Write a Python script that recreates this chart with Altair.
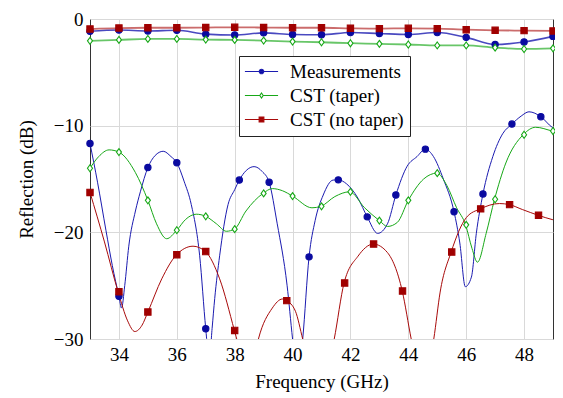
import altair as alt
import pandas as pd

# ---------------- data ----------------
series_names = ["Measurements", "CST (taper)", "CST (no taper)"]
line_colors = ["#1b1bb0", "#17a817", "#a80a0a"]
mark_fills = ["#0a0aa0", "white", "#a00000"]
mark_strokes = ["#0a0aa0", "#17a817", "#a00000"]

# upper curves (marks at every GHz)
upper_f = [33, 34, 35, 36, 37, 38, 39, 40, 41, 42, 43, 44, 45, 46, 47, 48, 49]
meas_upper_db = [-1.15, -1.03, -1.12, -1.06, -1.42, -1.5, -1.3, -1.45, -1.48,
                 -1.27, -1.36, -1.45, -1.27, -1.72, -2.39, -2.15, -1.63]
taper_upper_db = [-2.05, -1.96, -1.87, -1.87, -1.93, -1.96, -2.02, -2.12, -2.18,
                  -2.27, -2.33, -2.39, -2.48, -2.48, -2.69, -2.81, -2.75]
notaper_upper_db = [-0.94, -0.85, -0.82, -0.82, -0.8, -0.78, -0.8, -0.82, -0.82,
                    -0.87, -0.9, -0.87, -0.9, -1.0, -1.06, -1.09, -1.12]

# lower curves (reflection)
meas_lower_f = [33.0, 33.26, 33.55, 33.77, 34.0, 34.09, 34.2, 34.34, 34.57, 34.74,
                35.0, 35.25, 35.53, 35.8, 36.0, 36.25, 36.5, 36.79, 37.0, 37.12,
                37.22, 37.31, 37.48, 37.77, 38.0, 38.16, 38.4, 38.67, 38.95, 39.19,
                39.47, 39.81, 40.0, 40.17, 40.35, 40.57, 40.78, 41.06, 41.4, 41.58,
                41.86, 42.26, 42.58, 42.94, 43.28, 43.57, 43.96, 44.3, 44.59, 44.87,
                45.21, 45.58, 45.78, 45.97, 46.18, 46.35, 46.58, 46.92, 47.26, 47.58,
                47.9, 48.17, 48.58, 48.97, 49.0]
meas_lower_db = [-11.67, -15.3, -19.8, -23.1, -26.0, -27.1, -25.0, -21.3, -18.0, -16.2,
                 -13.93, -12.8, -12.4, -12.9, -13.48, -15.2, -17.4, -22.2, -29.04, -32.0,
                 -29.0, -26.2, -22.2, -17.4, -16.0, -15.1, -14.2, -13.84, -14.3, -15.3,
                 -19.2, -24.96, -30.0, -34.0, -30.0, -22.3, -18.9, -16.5, -15.1, -15.08,
                 -15.44, -16.8, -18.55, -20.1, -19.2, -16.5, -13.8, -12.9, -12.2, -12.9,
                 -15.0, -18.07, -21.0, -25.1, -24.2, -20.1, -16.4, -12.9, -10.76, -9.85,
                 -9.1, -8.7, -9.16, -10.15, -10.2]
meas_mark_f = [33.0, 34.0, 35.0, 36.0, 37.0, 38.16, 39.19, 40.57, 41.58, 42.58,
               43.57, 44.59, 45.58, 46.58, 47.58, 48.58]
meas_mark_db = [-11.67, -26.0, -13.93, -13.48, -29.04, -15.1, -15.3, -22.3, -15.08, -18.55,
                -16.5, -12.2, -18.07, -16.4, -9.85, -9.16]

taper_lower_f = [33.0, 33.3, 33.66, 34.0, 34.57, 35.0, 35.3, 35.65, 36.0, 36.3,
                 36.67, 37.0, 37.37, 37.71, 37.99, 38.39, 38.98, 39.3, 39.65, 40.0,
                 40.67, 40.98, 41.46, 41.97, 42.49, 43.0, 43.28, 43.62, 44.0, 44.53,
                 44.99, 45.33, 45.67, 45.98, 46.2, 46.39, 46.69, 46.98, 47.37, 47.97,
                 48.4, 48.97, 49.0]
taper_lower_db = [-13.99, -12.9, -12.27, -12.48, -14.4, -17.0, -19.2, -20.6, -19.8, -18.8,
                  -18.3, -18.5, -19.2, -19.9, -19.7, -18.0, -16.35, -15.9, -16.1, -16.6,
                  -17.7, -17.56, -16.65, -16.2, -17.7, -18.9, -19.45, -19.07, -17.0, -15.0,
                  -14.45, -15.6, -17.7, -19.3, -21.5, -22.8, -20.1, -16.9, -13.5, -10.85,
                  -10.15, -10.5, -10.52]
taper_mark_f = [33, 34, 35, 36, 37, 38, 39, 40, 41, 42, 43, 44, 45, 46, 47, 48, 49]
taper_mark_db = [-13.99, -12.48, -17.0, -19.8, -18.5, -19.7, -16.35, -16.6, -17.56, -16.2,
                 -18.9, -17.0, -14.45, -19.3, -16.9, -10.85, -10.5]

notaper_lower_f = [33.0, 33.5, 33.97, 34.3, 34.55, 34.8, 35.0, 35.48, 35.99, 36.56,
                   36.99, 37.48, 37.99, 38.1, 38.45, 38.82, 39.3, 39.65, 39.79, 40.1,
                   40.35, 40.9, 41.44, 41.78, 42.26, 42.79, 43.28, 43.79, 44.1, 44.5,
                   44.88, 45.1, 45.48, 46.01, 46.49, 47.15, 47.49, 47.94, 48.49, 48.97,
                   49.0]
notaper_lower_db = [-16.26, -20.9, -25.57, -28.3, -29.3, -28.7, -27.47, -24.36, -22.1, -21.3,
                    -21.8, -24.36, -29.2, -30.3, -35.0, -30.0, -27.1, -26.25, -26.4, -27.4,
                    -30.0, -36.0, -30.0, -24.75, -22.24, -21.1, -21.9, -25.5, -30.0, -35.0,
                    -30.0, -25.6, -21.85, -18.6, -17.8, -17.3, -17.4, -17.86, -18.4, -18.8,
                    -18.82]
notaper_mark_f = [33.0, 34.0, 35.0, 36.0, 37.0, 38.0, 39.8, 41.8, 42.8, 43.8,
                  45.5, 46.5, 47.5, 48.5]
notaper_mark_db = [-16.26, -25.57, -27.47, -22.1, -21.8, -29.2, -26.4, -24.75, -21.1, -25.5,
                   -21.85, -17.8, -17.4, -18.4]

x_ticks = [34, 36, 38, 40, 42, 44, 46, 48]
y_ticks = [-30, -20, -10, 0]

# ---------------- tables ----------------
curves = [
    (series_names[0], "m_up", upper_f, meas_upper_db, 1.6, 0.8),
    (series_names[1], "t_up", upper_f, taper_upper_db, 1.8, 0.65),
    (series_names[2], "n_up", upper_f, notaper_upper_db, 1.8, 0.6),
    (series_names[0], "m_lo", meas_lower_f, meas_lower_db, 1.0, 1.0),
    (series_names[1], "t_lo", taper_lower_f, taper_lower_db, 1.0, 1.0),
    (series_names[2], "n_lo", notaper_lower_f, notaper_lower_db, 1.0, 1.0),
]
rows = []
for s, cid, fs, ds, w, op in curves:
    for f, d in zip(fs, ds):
        rows.append({"series": s, "curve": cid, "f": f, "db": d, "w": w, "op": op})
lines_df = pd.DataFrame(rows)

marks = [
    (series_names[0], upper_f, meas_upper_db),
    (series_names[1], upper_f, taper_upper_db),
    (series_names[2], upper_f, notaper_upper_db),
    (series_names[0], meas_mark_f, meas_mark_db),
    (series_names[1], taper_mark_f, taper_mark_db),
    (series_names[2], notaper_mark_f, notaper_mark_db),
]
prow = []
for s, fs, ds in marks:
    for f, d in zip(fs, ds):
        prow.append({"series": s, "f": f, "db": d})
points_df = pd.DataFrame(prow)

legend_df = pd.DataFrame({"series": series_names, "f": [40.0] * 3, "db": [-5.0] * 3})

# ---------------- chart ----------------
FONT = "Liberation Serif"
FS = 19
diamond = "M0,-1.1L0.8,0L0,1.1L-0.8,0Z"

leg_circle = "M-1.95,0H1.95M0.27,0A0.27,0.27 0 1,1 -0.27,0A0.27,0.27 0 1,1 0.27,0Z"
leg_diamond = "M-1.95,0H-0.2M0.2,0H1.95M0,-0.3L0.2,0L0,0.3L-0.2,0Z"
leg_square = "M-1.95,0H1.95M-0.28,-0.28H0.28V0.28H-0.28Z"

x_enc = alt.X("f:Q", scale=alt.Scale(domain=[33, 49], nice=False, zero=False),
              axis=alt.Axis(values=x_ticks, format="d", title="Frequency (GHz)",
                            labelPadding=6, titlePadding=8))
y_enc = alt.Y("db:Q", scale=alt.Scale(domain=[-30, 0], nice=False),
              axis=alt.Axis(values=y_ticks, format="d", title="Reflection (dB)",
                            labelPadding=7, titlePadding=17))

lines = alt.Chart(lines_df).mark_line(clip=True, interpolate="monotone").encode(
    x=x_enc,
    y=y_enc,
    color=alt.Color("series:N", scale=alt.Scale(domain=series_names, range=line_colors),
                    legend=None),
    detail="curve:N",
    strokeWidth=alt.StrokeWidth("w:Q", scale=None),
    opacity=alt.Opacity("op:Q", scale=None),
)

points = alt.Chart(points_df).mark_point(filled=False, opacity=1, strokeWidth=1.1, size=40).encode(
    x="f:Q",
    y="db:Q",
    shape=alt.Shape("series:N", scale=alt.Scale(domain=series_names,
                                                 range=["circle", diamond, "square"]), legend=None),
    fill=alt.Fill("series:N", scale=alt.Scale(domain=series_names, range=mark_fills), legend=None),
    stroke=alt.Stroke("series:N", scale=alt.Scale(domain=series_names, range=mark_strokes), legend=None),
)

leg = alt.Legend(
    title=None, orient="none", legendX=149, legendY=37,
    fillColor="white", strokeColor="#222222", padding=6,
    rowPadding=4, symbolSize=289, symbolOffset=7, labelOffset=19,
    symbolStrokeWidth=1.1, symbolOpacity=1, labelFont=FONT, labelFontSize=FS,
    labelColor="black", cornerRadius=0,
)

legend_layer = alt.Chart(legend_df).mark_point(filled=False, strokeWidth=1.1).encode(
    x="f:Q",
    y="db:Q",
    shape=alt.Shape("series:N", scale=alt.Scale(domain=series_names,
                                                 range=[leg_circle, leg_diamond, leg_square]),
                    legend=leg),
    fill=alt.Fill("series:N", scale=alt.Scale(domain=series_names, range=mark_fills), legend=leg),
    stroke=alt.Stroke("series:N", scale=alt.Scale(domain=series_names, range=line_colors), legend=leg),
).transform_filter("false")

chart = alt.layer(lines, points, legend_layer).resolve_scale(
    shape="independent", fill="independent", stroke="independent"
).properties(
    width=463, height=320,
    autosize=alt.AutoSizeParams(type="none"),
    padding={"left": 82, "top": 11, "right": 2, "bottom": 58},
).configure_view(
    stroke="#333333", strokeWidth=1
).configure_axis(
    labelFont=FONT, labelFontSize=FS, labelColor="black",
    titleFont=FONT, titleFontSize=FS, titleFontWeight="normal", titleColor="black",
    domain=False, ticks=False, gridColor="#d9d9d9", gridWidth=1,
)

chart.save("out.html", embed_options={"renderer": "svg", "actions": False})
